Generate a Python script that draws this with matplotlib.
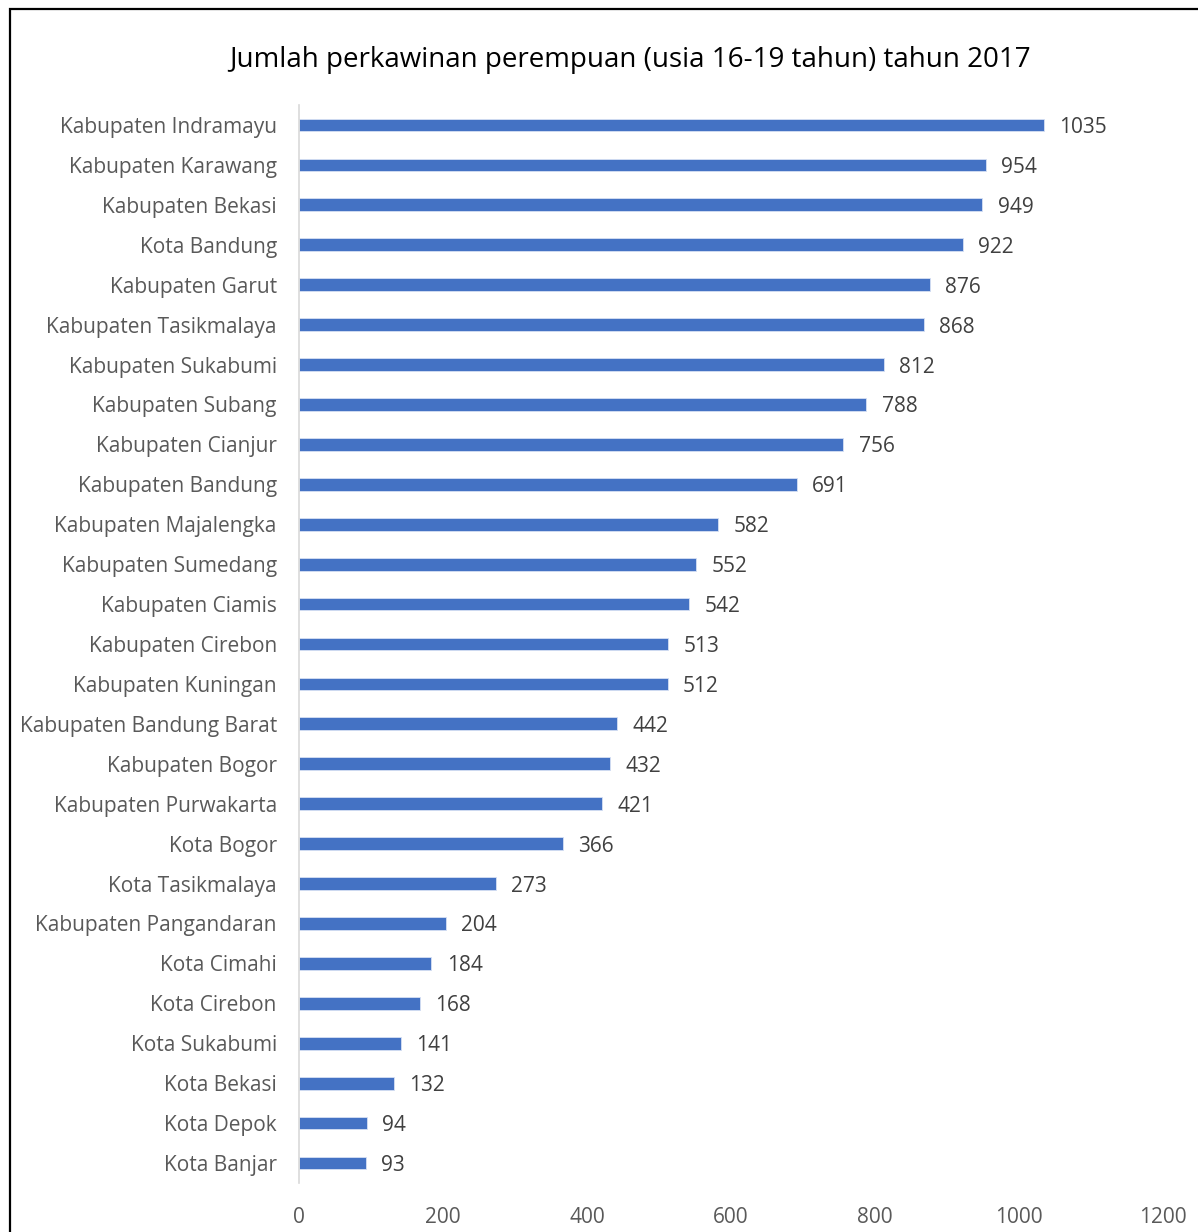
import matplotlib
matplotlib.use("Agg")
import matplotlib.pyplot as plt
from matplotlib.patches import Rectangle

categories = ["Kabupaten Indramayu", "Kabupaten Karawang", "Kabupaten Bekasi", "Kota Bandung",
              "Kabupaten Garut", "Kabupaten Tasikmalaya", "Kabupaten Sukabumi", "Kabupaten Subang",
              "Kabupaten Cianjur", "Kabupaten Bandung", "Kabupaten Majalengka", "Kabupaten Sumedang",
              "Kabupaten Ciamis", "Kabupaten Cirebon", "Kabupaten Kuningan", "Kabupaten Bandung Barat",
              "Kabupaten Bogor", "Kabupaten Purwakarta", "Kota Bogor", "Kota Tasikmalaya",
              "Kabupaten Pangandaran", "Kota Cimahi", "Kota Cirebon", "Kota Sukabumi",
              "Kota Bekasi", "Kota Depok", "Kota Banjar"]
values = [1035, 954, 949, 922, 876, 868, 812, 788, 756, 691, 582, 552, 542, 513, 512,
          442, 432, 421, 366, 273, 204, 184, 168, 141, 132, 94, 93]
xticks = [0, 200, 400, 600, 800, 1000, 1200]
title = "Jumlah perkawinan perempuan (usia 16-19 tahun) tahun 2017"

plt.rcParams['font.family'] = ['Open Sans', 'DejaVu Sans']

W, H = 1198, 1232
fig = plt.figure(figsize=(W / 100, H / 100), dpi=100)
ax = fig.add_axes([299 / W, 1 - 1183 / H, (1163 - 299) / W, (1183 - 105) / H])

pos = list(range(len(categories)))
ax.barh(pos, values, height=0.32, color="#4472C4", edgecolor="#D6E0F3", linewidth=0.6)
ax.set_ylim(len(categories) - 0.5, -0.5)
ax.set_xlim(0, 1200)
ax.set_yticks(pos)
ax.set_yticklabels(categories, fontsize=15, color="#595959")
ax.set_xticks(xticks)
ax.set_xticklabels([str(t) for t in xticks], fontsize=15, color="#595959")
ax.tick_params(axis='y', length=0, pad=16)
ax.tick_params(axis='x', length=0, pad=17)
for s in ["top", "right", "bottom"]:
    ax.spines[s].set_visible(False)
ax.spines["left"].set_color("#D9D9D9")
ax.spines["left"].set_linewidth(1.2)

for p, v in zip(pos, values):
    ax.annotate(str(v), (v, p), xytext=(11, 0), textcoords="offset points",
                va="center_baseline", ha="left", fontsize=15, color="#404040")

fig.text(630 / W, 1 - 60 / H, title, ha="center", va="center", fontsize=20, color="#000000")

fig.patches.append(Rectangle((10 / W, -0.1), 1.2, 0.1 + (1 - 9 / H), transform=fig.transFigure,
                             fill=False, edgecolor="black", linewidth=1.6))

fig.savefig("out.png", dpi=100)
